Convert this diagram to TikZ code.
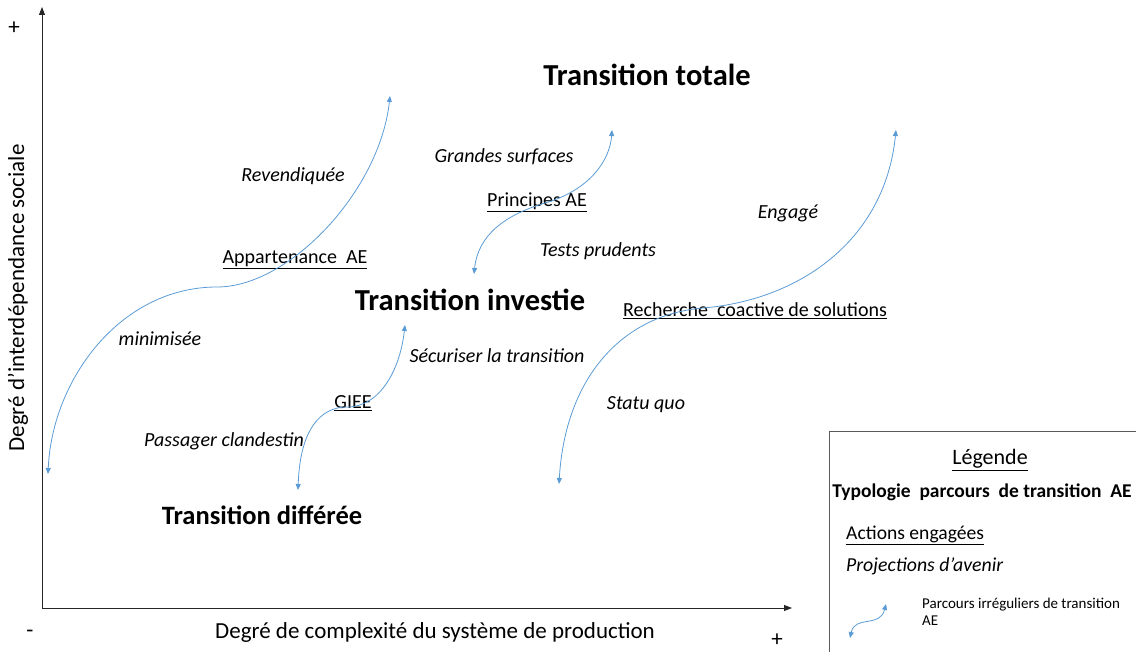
\documentclass[tikz,border=0pt]{standalone}
\usepackage{fontspec}
\setmainfont{Carlito}
\usetikzlibrary{arrows.meta}
\definecolor{curveblue}{RGB}{91,155,213}
\definecolor{boxgray}{RGB}{90,90,90}
\begin{document}
\begin{tikzpicture}[x=1pt,y=-1pt,
  big/.style={font=\fontsize{30.5}{34}\selectfont\bfseries, inner sep=0pt},
  proj/.style={font=\fontsize{20}{24}\selectfont\itshape, inner sep=0pt},
  act/.style={font=\fontsize{20}{24}\selectfont, inner sep=0pt},
  axislabel/.style={font=\fontsize{23}{26}\selectfont, inner sep=0pt},
  route/.style={curveblue, line width=0.8pt, {Triangle[length=6pt,width=5pt]}-{Triangle[length=6pt,width=5pt]}},
  axisline/.style={black!85, line width=0.9pt, -{Triangle[length=8pt,width=6pt]}}
]
\useasboundingbox (0,0) rectangle (1136,652);

% axes
\coordinate (O) at (42,608);
\coordinate (Ytop) at (42,7);
\coordinate (Xend) at (792,608);
\draw[axisline] (O) -- (Ytop);
\draw[axisline] (O) -- (Xend);
\node[axislabel] (yplus) at (14,28) {+};
\node[axislabel] (xminus) at (30,634) {-};
\node[axislabel] (xplus) at (777,640) {+};
\node[axislabel] (xlab) at (435,632) {Degré de complexité du système de production};
\node[axislabel, rotate=90] (ylab) at (18,298) {Degré d’interdépendance sociale};

% big labels
\node[big] (tot) at (647,75) {Transition totale};
\node[big] (inv) at (470,300) {Transition investie};
\node[big, font=\fontsize{26.5}{30}\selectfont\bfseries] (dif) at (262,515) {Transition différée};

% projections
\node[proj] (rev) at (293,176) {Revendiquée};
\node[proj] (min) at (160,339) {minimisée};
\node[proj] (pas) at (224,441) {Passager clandestin};
\node[proj] (gra) at (504,157) {Grandes surfaces};
\node[proj] (tes) at (598,251) {Tests prudents};
\node[proj] (eng) at (788,213) {Engagé};
\node[proj] (sec) at (497,356) {Sécuriser la transition};
\node[proj] (sta) at (646,405) {Statu quo};

% actions
\node[act] (app) at (295,260) {\underline{Appartenance\ \ AE}};
\node[act] (pri) at (537,202) {\underline{Principes AE}};
\node[act] (gie) at (353,403) {\underline{GIEE}};
\node[act] (rec) at (755,311) {\underline{Recherche\ \ coactive de solutions}};

% curves
\coordinate (a1) at (48,474);
\coordinate (a2) at (217,287);
\coordinate (a3) at (390,96);
\draw[route] (a1) .. controls (52,380) and (120,287) .. (a2) .. controls (290,287) and (380,190) .. (a3);

\coordinate (b1) at (474,274);
\coordinate (b2) at (545,203);
\coordinate (b3) at (612,130);
\draw[route] (b1) .. controls (478,235) and (505,215) .. (b2) .. controls (590,190) and (610,160) .. (b3);

\coordinate (c1) at (559,484);
\coordinate (c2) at (703,308);
\coordinate (c3) at (896,130);
\draw[route] (c1) .. controls (565,380) and (620,315) .. (c2) .. controls (800,300) and (885,240) .. (c3);

\coordinate (d1) at (298,490);
\coordinate (d2) at (347,407);
\coordinate (d3) at (405,325);
\draw[route] (d1) .. controls (300,430) and (320,407) .. (d2) .. controls (380,407) and (400,370) .. (d3);

% legend
\draw[boxgray, line width=0.8pt] (829,652) -- (829,431) -- (1136,431);
\node[font=\fontsize{22}{26}\selectfont, inner sep=0pt] (leg) at (990,460) {\underline{Légende}};
\node[font=\fontsize{19.5}{22}\selectfont\bfseries, inner sep=0pt] (typ) at (982,492) {Typologie\ \ parcours\ \ de transition\ \ AE};
\node[font=\fontsize{19.6}{22}\selectfont, inner sep=0pt, anchor=west] (acl) at (846,535) {\underline{Actions engagées}};
\node[font=\fontsize{19.8}{22}\selectfont\itshape, inner sep=0pt, anchor=west] (prl) at (846,566) {Projections d’avenir};
\coordinate (e1) at (850,638);
\coordinate (e2) at (886,604);
\draw[route] (e1) .. controls (855,615) and (880,628) .. (e2);
\node[font=\fontsize{15}{17}\selectfont, inner sep=0pt, anchor=north west, align=left] (pal) at (922,598) {Parcours irréguliers de transition\\AE};
\end{tikzpicture}
\end{document}
